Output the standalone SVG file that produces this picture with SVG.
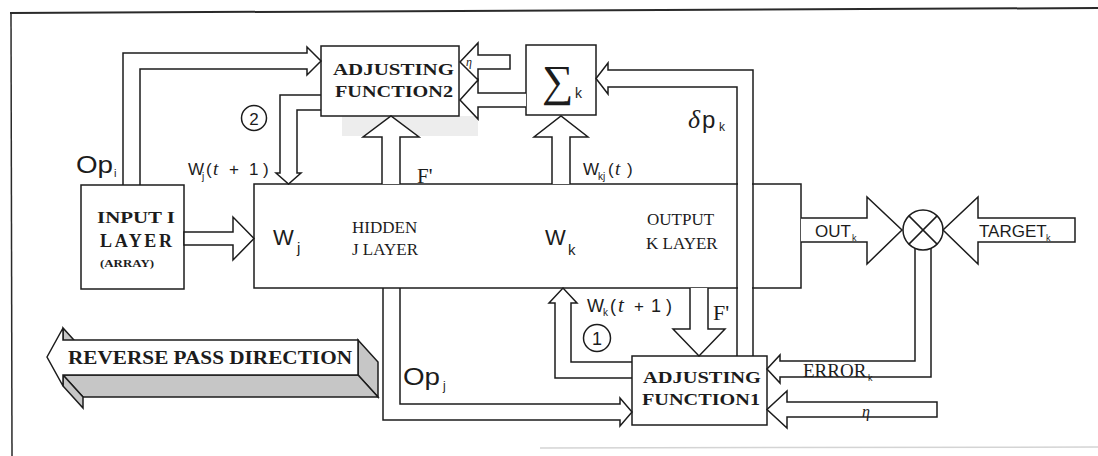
<svg xmlns="http://www.w3.org/2000/svg" width="1098" height="456" viewBox="0 0 1098 456">
<style>
.ln{fill:none;stroke:#1c1c1c;stroke-width:1.5;stroke-linejoin:miter}
.bx{fill:#fff;stroke:#1c1c1c;stroke-width:1.5}
.ar{fill:#fff;stroke:#1c1c1c;stroke-width:1.5;stroke-linejoin:miter}
.gr{fill:#c6c6c6;stroke:#1c1c1c;stroke-width:1.5;stroke-linejoin:miter}
.sans{font-family:"Liberation Sans",Arial,sans-serif;fill:#1c1c1c}
.ser{font-family:"Liberation Serif","Times New Roman",serif;fill:#1c1c1c}
.it{font-family:"Liberation Serif","Times New Roman",serif;font-style:italic;fill:#1c1c1c}
.bold{font-family:"Liberation Serif","Times New Roman",serif;font-weight:bold;fill:#1c1c1c}
</style>
<rect x="0" y="0" width="1098" height="456" fill="#fff"/>
<g id="frame">
<line x1="10" y1="13" x2="1098" y2="8" stroke="#2a2a2a" stroke-width="2"/>
<line x1="11" y1="13" x2="12" y2="456" stroke="#2a2a2a" stroke-width="1.5"/>
<line x1="540" y1="448" x2="1098" y2="447" stroke="#d4d4d4" stroke-width="1.5"/>
<rect x="342" y="116" width="136" height="20" fill="#ededed"/>
</g>
<g id="input-layer">
<rect class="bx" x="81" y="185" width="103" height="104"/>
<text class="bold" x="97" y="223" font-size="17" textLength="78" lengthAdjust="spacingAndGlyphs">INPUT I</text>
<text class="bold" x="100" y="247" font-size="18" textLength="72" lengthAdjust="spacing">LAYER</text>
<text class="bold" x="100" y="267" font-size="11" textLength="54" lengthAdjust="spacingAndGlyphs">(ARRAY)</text>
</g>
<g id="hidden-output-layer">
<rect class="bx" x="254" y="184" width="547" height="104"/>
<rect x="738" y="181" width="14" height="110" fill="#fff"/>
<text class="sans" x="273" y="245" font-size="22">W</text>
<text class="sans" x="297" y="253" font-size="15">j</text>
<text class="ser" x="352" y="233" font-size="17">HIDDEN</text>
<text class="ser" x="352" y="255" font-size="17">J LAYER</text>
<text class="sans" x="545" y="245" font-size="22">W</text>
<text class="sans" x="568" y="255" font-size="15">k</text>
<text class="ser" x="647" y="225" font-size="17">OUTPUT</text>
<text class="ser" x="646" y="249" font-size="17">K LAYER</text>
</g>
<g id="adjusting-function2">
<rect class="bx" x="321" y="46" width="138" height="70"/>
<text class="bold" x="333" y="75" font-size="17" textLength="121" lengthAdjust="spacingAndGlyphs">ADJUSTING</text>
<text class="bold" x="335" y="97" font-size="17" textLength="118" lengthAdjust="spacingAndGlyphs">FUNCTION2</text>
</g>
<g id="sigma">
<rect class="bx" x="526" y="45" width="70" height="70"/>
<text class="ser" x="542" y="96" font-size="44">∑</text>
<text class="sans" x="575" y="98" font-size="14">k</text>
</g>
<g id="adjusting-function1">
<rect class="bx" x="632" y="356" width="135" height="69"/>
<text class="bold" x="643" y="383" font-size="16" textLength="118" lengthAdjust="spacingAndGlyphs">ADJUSTING</text>
<text class="bold" x="642" y="405" font-size="16" textLength="118" lengthAdjust="spacingAndGlyphs">FUNCTION1</text>
</g>
<g id="summing-junction">
<circle class="bx" cx="923" cy="230" r="20"/>
<line class="ln" x1="908.9" y1="215.9" x2="937.1" y2="244.1"/>
<line class="ln" x1="937.1" y1="215.9" x2="908.9" y2="244.1"/>
</g>
<g id="reverse-pass">
<polygon class="gr" points="63,328 63,340 83,362 83,350"/>
<polygon class="gr" points="358,340 378,362 378,397 358,375"/>
<polygon class="gr" points="63,375 358,375 378,397 83,397"/>
<polygon class="gr" points="63,375 63,386 83,408 83,397"/>
<polygon class="ar" points="47,357 63,328 63,340 358,340 358,375 63,375 63,386"/>
<text class="bold" x="68" y="364" font-size="19" textLength="284" lengthAdjust="spacingAndGlyphs">REVERSE PASS DIRECTION</text>
</g>
<g id="connectors">
<polygon class="ar" points="184,232 233,232 233,217 254,238.5 233,260 233,245 184,245"/>
<path class="ln" d="M123,185 V53 H307 V47 L321,61 L307,75 V69 H140 V185"/>
<path class="ln" d="M321,95 H280 V173 H276 L288.5,184 L301,173 H297 V110 H321"/>
<path class="ar" d="M382,184 V137 H363 L391,116 L419,137 H400 V184"/>
<path class="ar" d="M552,184 V137 H534 L561,116 L588,137 H570 V184"/>
<path class="ar" d="M526,93 H478 V80 L460,100 L478,119 V107 H526"/>
<polygon class="ar" points="510,55 478,55 478,43 460,62 478,80 478,69 510,69"/>
<path class="ln" d="M737,356 V87 H608 V94 L596,78.5 L608,63 V70 H753 V356"/>
<path class="ar" d="M690,288 V329 H673 L699,356 L725,329 H708 V288"/>
<path class="ln" d="M632,378 H555 V303 H549 L563,288 L577,303 H571 V362 H632"/>
<path class="ln" d="M383,288 V420 H620 V426 L632,412 L620,398 V404 H400 V288"/>
<path class="ar" d="M801,218 H867 V197 L902,230 L867,264 V242 H801"/>
<polygon class="ar" points="1075,218 978,218 978,197 943,230 978,264 978,242 1075,242"/>
<path class="ln" d="M915,248 V361 H780 V355 L767,369 L780,383 V377 H931 V248"/>
<polygon class="ar" points="937,402 787,402 787,391 767,409.5 787,428 787,417 937,417"/>
</g>
<g id="labels">
<text class="sans" x="76" y="173" font-size="23" textLength="37" lengthAdjust="spacingAndGlyphs">Op</text>
<text class="sans" x="114" y="177" font-size="11">i</text>
<text class="sans" x="188" y="175" font-size="17">W</text>
<text class="sans" x="202" y="180" font-size="10">j</text>
<text class="sans" x="206" y="175" font-size="17">(</text>
<text class="it" x="213" y="175" font-size="19">t</text>
<text class="sans" x="229" y="175" font-size="17">+</text>
<text class="sans" x="249" y="175" font-size="17">1</text>
<text class="sans" x="263" y="175" font-size="17">)</text>
<circle class="ln" cx="254" cy="118" r="12.5"/>
<text class="sans" x="254" y="124.5" font-size="17" text-anchor="middle">2</text>
<text class="ser" x="417" y="183" font-size="21">F'</text>
<text class="sans" x="583" y="175" font-size="17">W</text>
<text class="sans" x="598" y="180" font-size="10">kj</text>
<text class="sans" x="608" y="175" font-size="17">(</text>
<text class="it" x="615" y="175" font-size="19">t</text>
<text class="sans" x="627" y="175" font-size="17">)</text>
<text class="it" x="688" y="128" font-size="26">δ</text>
<text class="sans" x="702" y="128" font-size="24">p</text>
<text class="sans" x="719" y="131" font-size="12">k</text>
<text class="sans" x="587" y="312" font-size="18">W</text>
<text class="sans" x="603" y="316" font-size="10">k</text>
<text class="sans" x="610" y="312" font-size="18">(</text>
<text class="it" x="618" y="312" font-size="21">t</text>
<text class="sans" x="634" y="312" font-size="17">+</text>
<text class="sans" x="651" y="312" font-size="18">1</text>
<text class="sans" x="666" y="312" font-size="18">)</text>
<circle class="ln" cx="597" cy="338" r="13.5"/>
<text class="sans" x="597" y="344.5" font-size="18" text-anchor="middle">1</text>
<text class="ser" x="713" y="320" font-size="22">F'</text>
<text class="sans" x="403" y="385" font-size="23" textLength="37" lengthAdjust="spacingAndGlyphs">Op</text>
<text class="sans" x="443" y="390" font-size="12">j</text>
<text class="sans" x="815" y="237" font-size="17">OUT</text>
<text class="sans" x="852" y="241" font-size="9">k</text>
<text class="sans" x="979" y="237" font-size="17">TARGET</text>
<text class="sans" x="1046" y="241" font-size="9">k</text>
<text class="ser" x="803" y="377" font-size="19">ERROR</text>
<text class="sans" x="868" y="381" font-size="9">k</text>
<text class="it" x="466" y="66" font-size="12">η</text>
<text class="it" x="862" y="417" font-size="16">η</text>
</g>
</svg>
